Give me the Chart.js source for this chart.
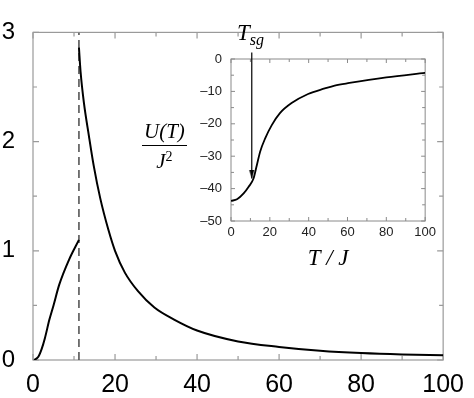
<!DOCTYPE html>
<html>
<head>
<meta charset="utf-8">
<script src="https://cdn.jsdelivr.net/npm/chart.js@4"></script>
<style>
  body { margin: 0; background: #fff; }
  #wrap { position: relative; width: 474px; height: 398px; }
  #mainChart { position: absolute; left: 0; top: 0; }
  #insetChart { position: absolute; left: 195px; top: 15px; }
  .math { position: absolute; font-family: 'Liberation Serif', 'DejaVu Serif', serif; font-style: italic; color: #000; }
  #frac { left: 142px; top: 118px; font-size: 21px; text-align: center; }
  #frac .num { border-bottom: 1.4px solid #000; padding: 0 2px; line-height: 27px; }
  #frac .den { line-height: 22px; }
  #frac sup { font-size: 14px; font-style: normal; vertical-align: 7px; }
  #tsg { left: 237px; top: 20px; font-size: 23px; }
  #tsg sub { font-size: 16px; vertical-align: -5px; }
</style>
</head>
<body>
<div id="wrap">
  <canvas id="mainChart" width="474" height="398"></canvas>
  <canvas id="insetChart" width="245" height="270"></canvas>
  <div id="frac" class="math"><div class="num">U(T)</div><div class="den">J<sup>2</sup></div></div>
  <div id="tsg" class="math">T<sub>sg</sub></div>
</div>
<script>
// main panel: U(T)/J^2 versus T/J, two branches split at T_sg
const tsg = [11.2];
const lowT = [0.3, 1.3, 2.1, 2.9, 4, 5, 6.4, 8.8, 11.2];
const lowU = [0, 0.03, 0.1, 0.2, 0.37, 0.5, 0.69, 0.92, 1.1];
const highT = [11.2, 11.6, 12.4, 13.6, 14.8, 16.4, 18.4, 20, 22.4, 25.6, 29.6, 34.4, 40, 50, 60, 70, 80, 90, 100];
const highU = [2.86, 2.64, 2.36, 2.06, 1.78, 1.48, 1.19, 1.0, 0.8, 0.63, 0.48, 0.37, 0.27, 0.17, 0.12, 0.085, 0.063, 0.05, 0.043];

// inset: energy versus T/J
const insetT = [0, 3.1, 6.5, 9, 11.6, 13.3, 15, 17.6, 21, 25.2, 31.2, 39.7, 48.3, 53.4, 61, 80, 100];
const insetU = [-43.8, -43.3, -41.5, -39.5, -36.9, -32.8, -28.6, -24.5, -20.4, -16.7, -13.6, -10.8, -9.1, -8.2, -7.4, -5.7, -4.3];
const arrowT = [10.7, 10.7];
const arrowU = [2, -36.9];

const mainXTicks = { min: 0, max: 100, step: 10, every: 20 };
const mainYTicks = { min: 0, max: 3, step: 0.5, every: 1 };
const insetXTicks = { min: 0, max: 100, step: 10, every: 20 };
const insetYTicks = { min: -50, max: 0, step: 5, every: 10 };

function pts(xs, ys) {
    return xs.map((x, i) => ({ x: x, y: ys[i] }));
}

// box frame with inward ticks on all four sides
const framePlugin = {
    id: 'frame',
    beforeDatasetsDraw(chart, args, opts) {
        const { ctx, chartArea: a, scales } = chart;
        ctx.save();
        ctx.strokeStyle = opts.color;
        ctx.lineWidth = opts.width;
        ctx.strokeRect(a.left, a.top, a.right - a.left, a.bottom - a.top);
        ctx.beginPath();
        scales.x.ticks.forEach(t => {
            const px = scales.x.getPixelForValue(t.value);
            const len = t.label !== '' ? opts.major : opts.minor;
            ctx.moveTo(px, a.bottom); ctx.lineTo(px, a.bottom - len);
            ctx.moveTo(px, a.top); ctx.lineTo(px, a.top + len);
        });
        scales.y.ticks.forEach(t => {
            const py = scales.y.getPixelForValue(t.value);
            const len = t.label !== '' ? opts.major : opts.minor;
            ctx.moveTo(a.left, py); ctx.lineTo(a.left + len, py);
            ctx.moveTo(a.right, py); ctx.lineTo(a.right - len, py);
        });
        ctx.stroke();
        ctx.restore();
    }
};

function labelEvery(every, fmt) {
    return function (v) {
        const r = v / every;
        return Math.abs(r - Math.round(r)) < 1e-6 ? fmt(v) : '';
    };
}

new Chart(document.getElementById('mainChart'), {
    type: 'line',
    data: {
        datasets: [{
            data: pts(lowT, lowU),
            borderColor: '#000',
            borderWidth: 2,
            pointRadius: 0,
            cubicInterpolationMode: 'monotone'
        }, {
            data: pts(highT, highU),
            borderColor: '#000',
            borderWidth: 2,
            pointRadius: 0,
            cubicInterpolationMode: 'monotone'
        }, {
            data: pts([tsg[0], tsg[0]], [mainYTicks.min, mainYTicks.max]),
            borderColor: '#555',
            borderWidth: 1.6,
            borderDash: [8, 5],
            pointRadius: 0
        }]
    },
    options: {
        responsive: false,
        animation: false,
        devicePixelRatio: 1,
        events: [],
        layout: { padding: { top: 12, right: 23, left: 0, bottom: 0 } },
        plugins: {
            legend: { display: false },
            tooltip: { enabled: false },
            frame: { color: '#9a9a9a', width: 1.2, major: 6, minor: 4 }
        },
        scales: {
            x: {
                type: 'linear',
                min: mainXTicks.min,
                max: mainXTicks.max,
                grid: { display: false, drawTicks: false },
                border: { display: false },
                ticks: {
                    stepSize: mainXTicks.step,
                    autoSkip: false,
                    maxRotation: 0,
                    padding: 10,
                    color: '#000',
                    font: { family: 'Liberation Sans', size: 25 },
                    callback: labelEvery(mainXTicks.every, v => String(v))
                },
                afterFit(s) { s.height = 38; }
            },
            y: {
                type: 'linear',
                min: mainYTicks.min,
                max: mainYTicks.max,
                grid: { display: false, drawTicks: false },
                border: { display: false },
                ticks: {
                    stepSize: mainYTicks.step,
                    autoSkip: false,
                    padding: 18,
                    color: '#000',
                    font: { family: 'Liberation Sans', size: 24 },
                    callback: labelEvery(mainYTicks.every, v => String(v))
                },
                afterFit(s) { s.width = 33; }
            }
        }
    },
    plugins: [framePlugin]
});

// narrow arrowhead, tip at the centre of the image
const head = document.createElement('canvas');
head.width = 7;
head.height = 18;
const hctx = head.getContext('2d');
hctx.fillStyle = '#000';
hctx.beginPath();
hctx.moveTo(0.8, 0);
hctx.lineTo(6.2, 0);
hctx.lineTo(3.5, 9);
hctx.closePath();
hctx.fill();

new Chart(document.getElementById('insetChart'), {
    type: 'line',
    data: {
        datasets: [{
            data: pts(insetT, insetU),
            borderColor: '#000',
            borderWidth: 1.8,
            pointRadius: 0,
            cubicInterpolationMode: 'monotone'
        }, {
            data: pts(arrowT, arrowU),
            borderColor: '#000',
            borderWidth: 1.2,
            pointRadius: [0, 4],
            pointStyle: ['circle', head],
            clip: false
        }]
    },
    options: {
        responsive: false,
        animation: false,
        devicePixelRatio: 1,
        events: [],
        layout: { padding: { top: 44, right: 14, left: 0, bottom: 0 } },
        plugins: {
            legend: { display: false },
            tooltip: { enabled: false },
            frame: { color: '#8a8a8a', width: 1, major: 4, minor: 3 }
        },
        scales: {
            x: {
                type: 'linear',
                min: insetXTicks.min,
                max: insetXTicks.max,
                grid: { display: false, drawTicks: false },
                border: { display: false },
                ticks: {
                    stepSize: insetXTicks.step,
                    autoSkip: false,
                    maxRotation: 0,
                    padding: 4,
                    color: '#222',
                    font: { family: 'Liberation Sans', size: 13 },
                    callback: labelEvery(insetXTicks.every, v => String(v))
                },
                title: {
                    display: true,
                    text: 'T / J',
                    color: '#000',
                    padding: { top: 0, bottom: 12 },
                    font: { family: 'Liberation Serif', size: 23, style: 'italic' }
                },
                afterFit(s) { s.height = 64; }
            },
            y: {
                type: 'linear',
                min: insetYTicks.min,
                max: insetYTicks.max,
                grid: { display: false, drawTicks: false },
                border: { display: false },
                ticks: {
                    stepSize: insetYTicks.step,
                    autoSkip: false,
                    padding: 9,
                    color: '#222',
                    font: { family: 'Liberation Sans', size: 13 },
                    callback: labelEvery(insetYTicks.every, v => v < 0 ? '\u2013' + Math.abs(v) : String(v))
                },
                afterFit(s) { s.width = 36; }
            }
        }
    },
    plugins: [framePlugin]
});
</script>
</body>
</html>
